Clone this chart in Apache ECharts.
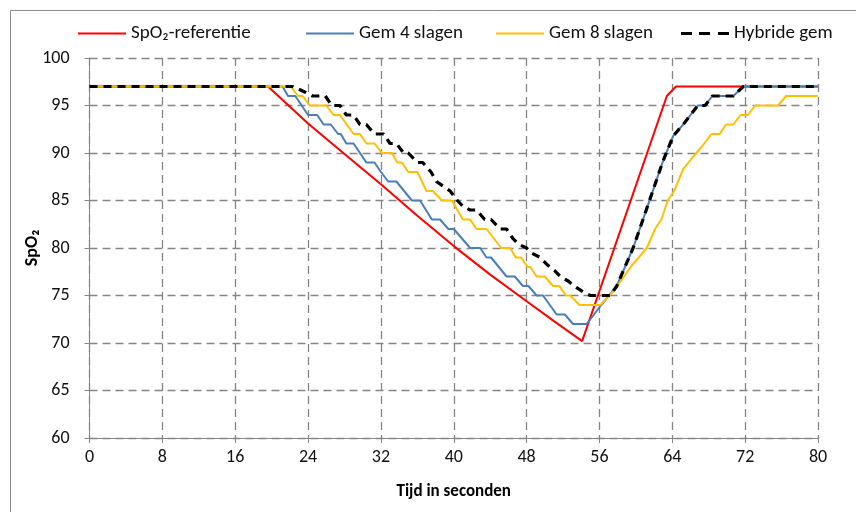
<!DOCTYPE html>
<html>
<head>
<meta charset="utf-8">
<script src="https://cdn.jsdelivr.net/npm/echarts@6/dist/echarts.min.js"></script>
<style>
html,body{margin:0;padding:0;background:#fff;}
#chart{width:856px;height:512px;}
</style>
</head>
<body>
<div id="chart"></div>
<script>
// Series names
const seriesNames = ['SpO\u2082-referentie', 'Gem 4 slagen', 'Gem 8 slagen', 'Hybride gem'];

// Axis ticks
const xTicks = [0, 8, 16, 24, 32, 40, 48, 56, 64, 72, 80];
const yTicks = [60, 65, 70, 75, 80, 85, 90, 95, 100];

// [time (s), SpO2]
const refData = [[0,97],[19.6,97],[24,93.1],[28,89.9],[32,86.7],[36,83.4],[40,80.2],[44,77.2],[48,74.4],[51,72.3],[54.1,70.2],[63.4,96],[64.4,97],[80,97]];

const gem4Data = [[0,97],[21.2,97],[21.8,96],[22.6,96],[24.0,94],[25.0,94],[25.7,93],[26.5,93],[27.3,92],[27.6,92],[28.2,91],[29.0,91],[30.4,89],[31.3,89],[32.0,88],[32.8,87],[33.7,87],[35.4,85],[36.3,85],[37.6,83],[38.5,83],[39.4,82],[40.0,82],[41.8,80],[42.9,80],[43.6,79],[44.1,79],[45.8,77],[46.7,77],[47.6,76],[48.2,76],[49.1,75],[49.8,75],[51.3,73],[52.2,73],[53.1,72],[54.6,72],[56.2,74],[57.9,76],[59.7,80],[61.5,85],[63,89.2],[64.1,91.8],[65.2,93],[66,94],[66.8,95],[67.6,95],[68.4,96],[70.7,96],[71.8,97],[80,97]];

const gem8Data = [[0,97],[22.1,97],[22.9,96],[23.4,96],[24.2,95],[26.0,95],[26.8,94],[27.5,94],[29.0,92],[29.7,92],[30.4,91],[31.3,91],[32.1,90],[33.2,90],[33.8,89],[34.3,89],[35.0,88],[36.0,88],[37.0,86],[37.7,86],[38.7,85],[39.8,85],[41.0,83],[41.8,83],[42.5,82],[43.6,82],[45.2,80],[46.2,80],[46.8,79],[47.4,79],[48.1,78],[48.4,78],[49.1,77],[50.0,77],[50.9,76],[51.6,76],[52.3,75],[52.8,75],[53.8,74],[56.1,74],[57.7,75.6],[59.5,78.1],[61.2,80],[62.1,82],[62.8,83],[63.5,85],[64.2,86],[65.2,88.3],[66.2,89.5],[67.1,90.5],[68.3,92],[69.2,92],[69.9,93],[70.7,93],[71.5,94],[72.3,94],[73.1,95],[75.6,95],[76.5,96],[80,96]];

const hybridData = [[0,97],[22.3,97],[23.7,96.4],[24.5,96],[25.9,96],[26.6,95],[27.5,95],[28.2,94],[29.0,94],[29.7,93],[30.4,93],[31.3,92],[32.3,92],[33.0,91],[33.7,91],[34.5,90],[35.0,90],[36.0,89],[36.6,89],[37.5,88],[38.1,87],[39.0,86.4],[39.6,86],[40.4,85],[41.0,84.4],[41.8,84],[42.5,84],[43.4,83],[44.1,83],[45.1,82],[45.8,82],[46.5,81],[47.1,80.4],[48.0,80],[48.5,79.5],[49.5,79],[50.2,78.3],[51.1,77.6],[51.7,77],[52.6,76.5],[53.2,76],[54.5,75.2],[55.0,75],[57.2,75],[57.9,76],[59.7,80],[61.5,85],[63,89.2],[64.1,91.8],[65.2,93],[66,94],[66.8,95],[67.6,95],[68.4,96],[70.7,96],[71.8,97],[80,97]];

const FONT = 'Carlito, "Liberation Sans Narrow", "Open Sans", "Liberation Sans", sans-serif';
const gridColor = '#858585';
const SOLID_ICON = 'path://M0,0H48V2H0Z';
const DASH_ICON = 'path://M0,0H11V3H0Z M18,0H29V3H18Z M37,0H48V3H37Z';

const chart = echarts.init(document.getElementById('chart'), null, {renderer: 'canvas'});

function legendAt(name, left, icon, h) {
  return {
    data: [{name: name, icon: icon}], left: left, top: 24, padding: 0,
    itemWidth: 48, itemHeight: h, itemGap: 5, symbolKeepAspect: false,
    textStyle: {fontFamily: FONT, fontSize: 19, color: '#111', padding: [0, 0, 0, 0]}
  };
}

const option = {
  animation: false,
  backgroundColor: '#fff',
  graphic: [{
    type: 'rect', left: 8, top: 8, silent: true,
    shape: {width: 900, height: 600},
    style: {fill: 'none', stroke: '#8a8a8a', lineWidth: 1}
  }],
  legend: [
    legendAt(seriesNames[0], 78, SOLID_ICON, 2),
    legendAt(seriesNames[1], 306, SOLID_ICON, 2),
    legendAt(seriesNames[2], 496, SOLID_ICON, 2),
    legendAt(seriesNames[3], 681, DASH_ICON, 3)
  ],
  grid: {left: 89.5, right: 38, top: 58, bottom: 74},
  xAxis: {
    type: 'value', min: xTicks[0], max: xTicks[xTicks.length - 1], interval: 8,
    name: 'Tijd in seconden', nameLocation: 'middle', nameGap: 45,
    nameTextStyle: {fontFamily: FONT, fontSize: 17, fontWeight: 'bold', color: '#000'},
    axisLine: {show: true, lineStyle: {color: '#868686', width: 1}},
    axisTick: {show: true, length: 5, lineStyle: {color: '#868686'}},
    axisLabel: {fontFamily: FONT, fontSize: 18, color: '#111', margin: 10,
      formatter: v => xTicks.includes(v) ? String(v) : ''},
    splitLine: {show: true, lineStyle: {color: gridColor, type: [8, 5], width: 1.3}}
  },
  yAxis: {
    type: 'value', min: yTicks[0], max: yTicks[yTicks.length - 1], interval: 5,
    name: 'SpO\u2082', nameLocation: 'middle', nameGap: 48, nameRotate: 90,
    nameMoveOverlap: false,
    nameTextStyle: {fontFamily: FONT, fontSize: 18, fontWeight: 'bold', color: '#000'},
    axisLine: {show: true, lineStyle: {color: '#868686', width: 1}},
    axisTick: {show: true, length: 5, lineStyle: {color: '#868686'}},
    axisLabel: {fontFamily: FONT, fontSize: 18, color: '#111', margin: 20,
      formatter: v => yTicks.includes(v) ? String(v) : ''},
    splitLine: {show: true, lineStyle: {color: gridColor, type: [8, 5], width: 1.3}}
  },
  series: [
    {name: seriesNames[0], type: 'line', data: refData, symbol: 'none', z: 2,
      lineStyle: {color: '#FF0000', width: 2}, itemStyle: {color: '#FF0000'}},
    {name: seriesNames[1], type: 'line', data: gem4Data, symbol: 'none', z: 3,
      lineStyle: {color: '#4A7EBB', width: 2}, itemStyle: {color: '#4A7EBB'}},
    {name: seriesNames[2], type: 'line', data: gem8Data, symbol: 'none', z: 4,
      lineStyle: {color: '#FFC000', width: 2}, itemStyle: {color: '#FFC000'}},
    {name: seriesNames[3], type: 'line', data: hybridData, symbol: 'none', z: 5,
      lineStyle: {color: '#000000', width: 3.2, type: [8, 6]}, itemStyle: {color: '#000000'}}
  ]
};
chart.setOption(option);
</script>
</body>
</html>
